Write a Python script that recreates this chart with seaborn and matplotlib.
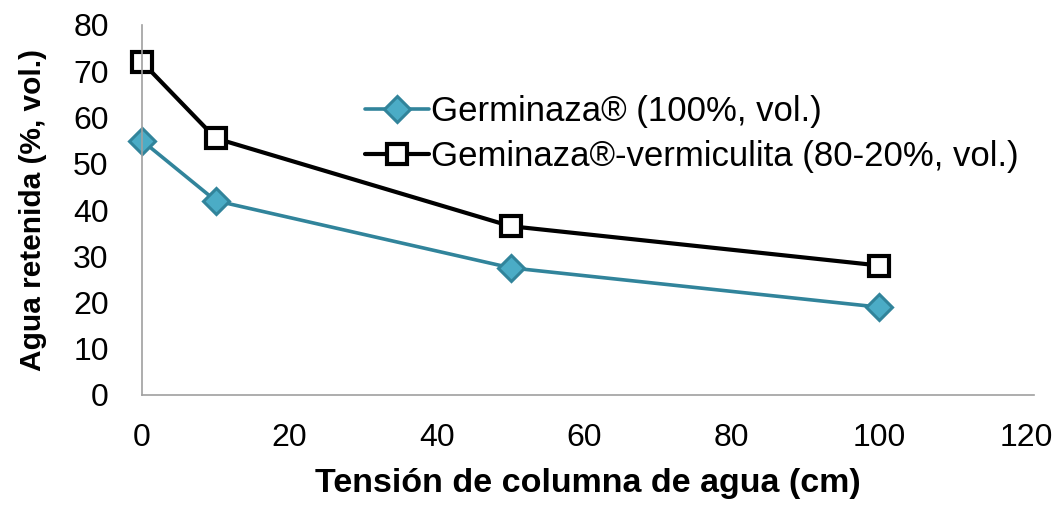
import matplotlib
matplotlib.use("Agg")
import matplotlib.pyplot as plt
import seaborn as sns
import pandas as pd

# data
tension = [0, 10, 50, 100]
germinaza = [55, 42, 27.5, 19]
germ_verm = [72, 55.5, 36.5, 28]
label_germ = "Germinaza® (100%, vol.)"
label_verm = "Geminaza®-vermiculita (80-20%, vol.)"
xticks = [0, 20, 40, 60, 80, 100, 120]
yticks = [0, 10, 20, 30, 40, 50, 60, 70, 80]

sns.set_style("white")
plt.rcParams['font.family'] = ['Liberation Sans', 'DejaVu Sans']
for key in ["text.color", "axes.labelcolor", "xtick.color", "ytick.color"]:
    plt.rcParams[key] = "black"

df1 = pd.DataFrame({"x": tension, "y": germinaza})
df2 = pd.DataFrame({"x": tension, "y": germ_verm})

fig = plt.figure(figsize=(10.6, 5.05), dpi=100)
ax = fig.add_axes([142 / 1060, 1 - 395 / 505, (1034 - 142) / 1060, (395 - 25) / 505])

sns.lineplot(data=df1, x="x", y="y", ax=ax, color="#31849B", linewidth=2.6,
             marker="D", markersize=13, markerfacecolor="#4BACC6",
             markeredgecolor="#31849B", markeredgewidth=2.2, label=label_germ,
             clip_on=False)
sns.lineplot(data=df2, x="x", y="y", ax=ax, color="black", linewidth=3,
             marker="s", markersize=15, markerfacecolor="white",
             markeredgecolor="black", markeredgewidth=3, label=label_verm,
             clip_on=False)

ax.set_xlim(0, 121)
ax.set_ylim(0, 80)
ax.set_xticks(xticks)
ax.set_yticks(yticks)
ax.tick_params(axis="both", length=0, labelsize=23)
ax.tick_params(axis="y", pad=24)
ax.tick_params(axis="x", pad=20)

for s in ["top", "right"]:
    ax.spines[s].set_visible(False)
for s in ["left", "bottom"]:
    ax.spines[s].set_color("#A0A0A0")
    ax.spines[s].set_linewidth(1.2)

ax.set_xlabel("Tensión de columna de agua (cm)", fontsize=24.5, fontweight="bold", labelpad=11)
ax.set_ylabel("Agua retenida (%, vol.)", fontsize=21.5, fontweight="bold", labelpad=19)

leg = ax.legend(loc="upper left", bbox_to_anchor=(0.25, 0.81), frameon=False,
                fontsize=25, handlelength=1.85, handletextpad=0.05, labelspacing=0.35,
                borderaxespad=0, borderpad=0)

fig.savefig("out.png", dpi=100)
